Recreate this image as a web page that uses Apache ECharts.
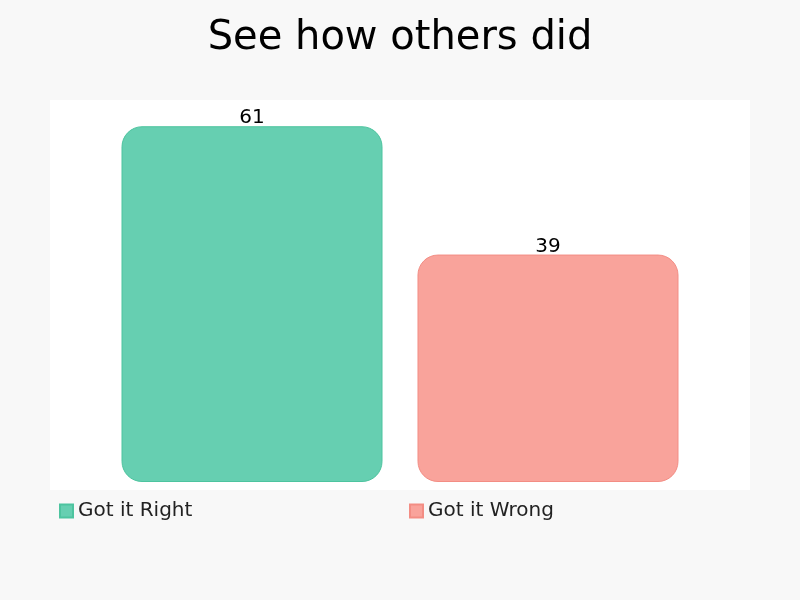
<!DOCTYPE html>
<html><head><meta charset="utf-8">
<script src="https://cdn.jsdelivr.net/npm/echarts@6/dist/echarts.min.js"></script>
<style>html,body{margin:0;padding:0;background:#f8f8f8}#c{width:800px;height:600px}</style>
</head><body><div id="c"></div>
<script>
const categories = ['Result'];
const seriesNames = ['Got it Right', 'Got it Wrong'];
const rightValues = [61];
const wrongValues = [39];
const colors = ['#66cfb1', '#f9a39b'];
const borders = ['#4dc49f', '#f38d84'];

const chart = echarts.init(document.getElementById('c'));
const font = 'DejaVu Sans';
chart.setOption({
  backgroundColor: '#f8f8f8',
  animation: false,
  title: {text: 'See how others did', left: 'center', top: 14,
    textStyle: {fontFamily: font, fontSize: 40, fontWeight: 'normal', color: '#000'}},
  graphic: [{type: 'rect', z: -10, shape: {x: 50, y: 100, width: 700, height: 390}, style: {fill: '#ffffff'}}],
  legend: [
    {data: [{name: seriesNames[0], icon: 'rect'}], left: 54, top: 496, itemWidth: 13, itemHeight: 13, itemGap: 5,
      textStyle: {fontFamily: font, fontSize: 20, color: '#222'}},
    {data: [{name: seriesNames[1], icon: 'rect'}], left: 404, top: 496, itemWidth: 13, itemHeight: 13, itemGap: 5,
      textStyle: {fontFamily: font, fontSize: 20, color: '#222'}}
  ],
  grid: {left: 50, right: 50, top: 100, bottom: 118},
  xAxis: {type: 'category', data: categories, show: false},
  yAxis: {type: 'value', min: 0, max: 65.5, show: false},
  series: [
    {name: seriesNames[0], type: 'bar', data: rightValues, barWidth: 261, barGap: '13.4%',
      itemStyle: {color: colors[0], borderColor: borders[0], borderWidth: 1, borderRadius: 20},
      label: {show: true, position: 'top', distance: -2, fontFamily: font, fontSize: 20, color: '#000'}},
    {name: seriesNames[1], type: 'bar', data: wrongValues, barWidth: 261,
      itemStyle: {color: colors[1], borderColor: borders[1], borderWidth: 1, borderRadius: 20},
      label: {show: true, position: 'top', distance: -2, fontFamily: font, fontSize: 20, color: '#000'}}
  ]
});
</script></body></html>
